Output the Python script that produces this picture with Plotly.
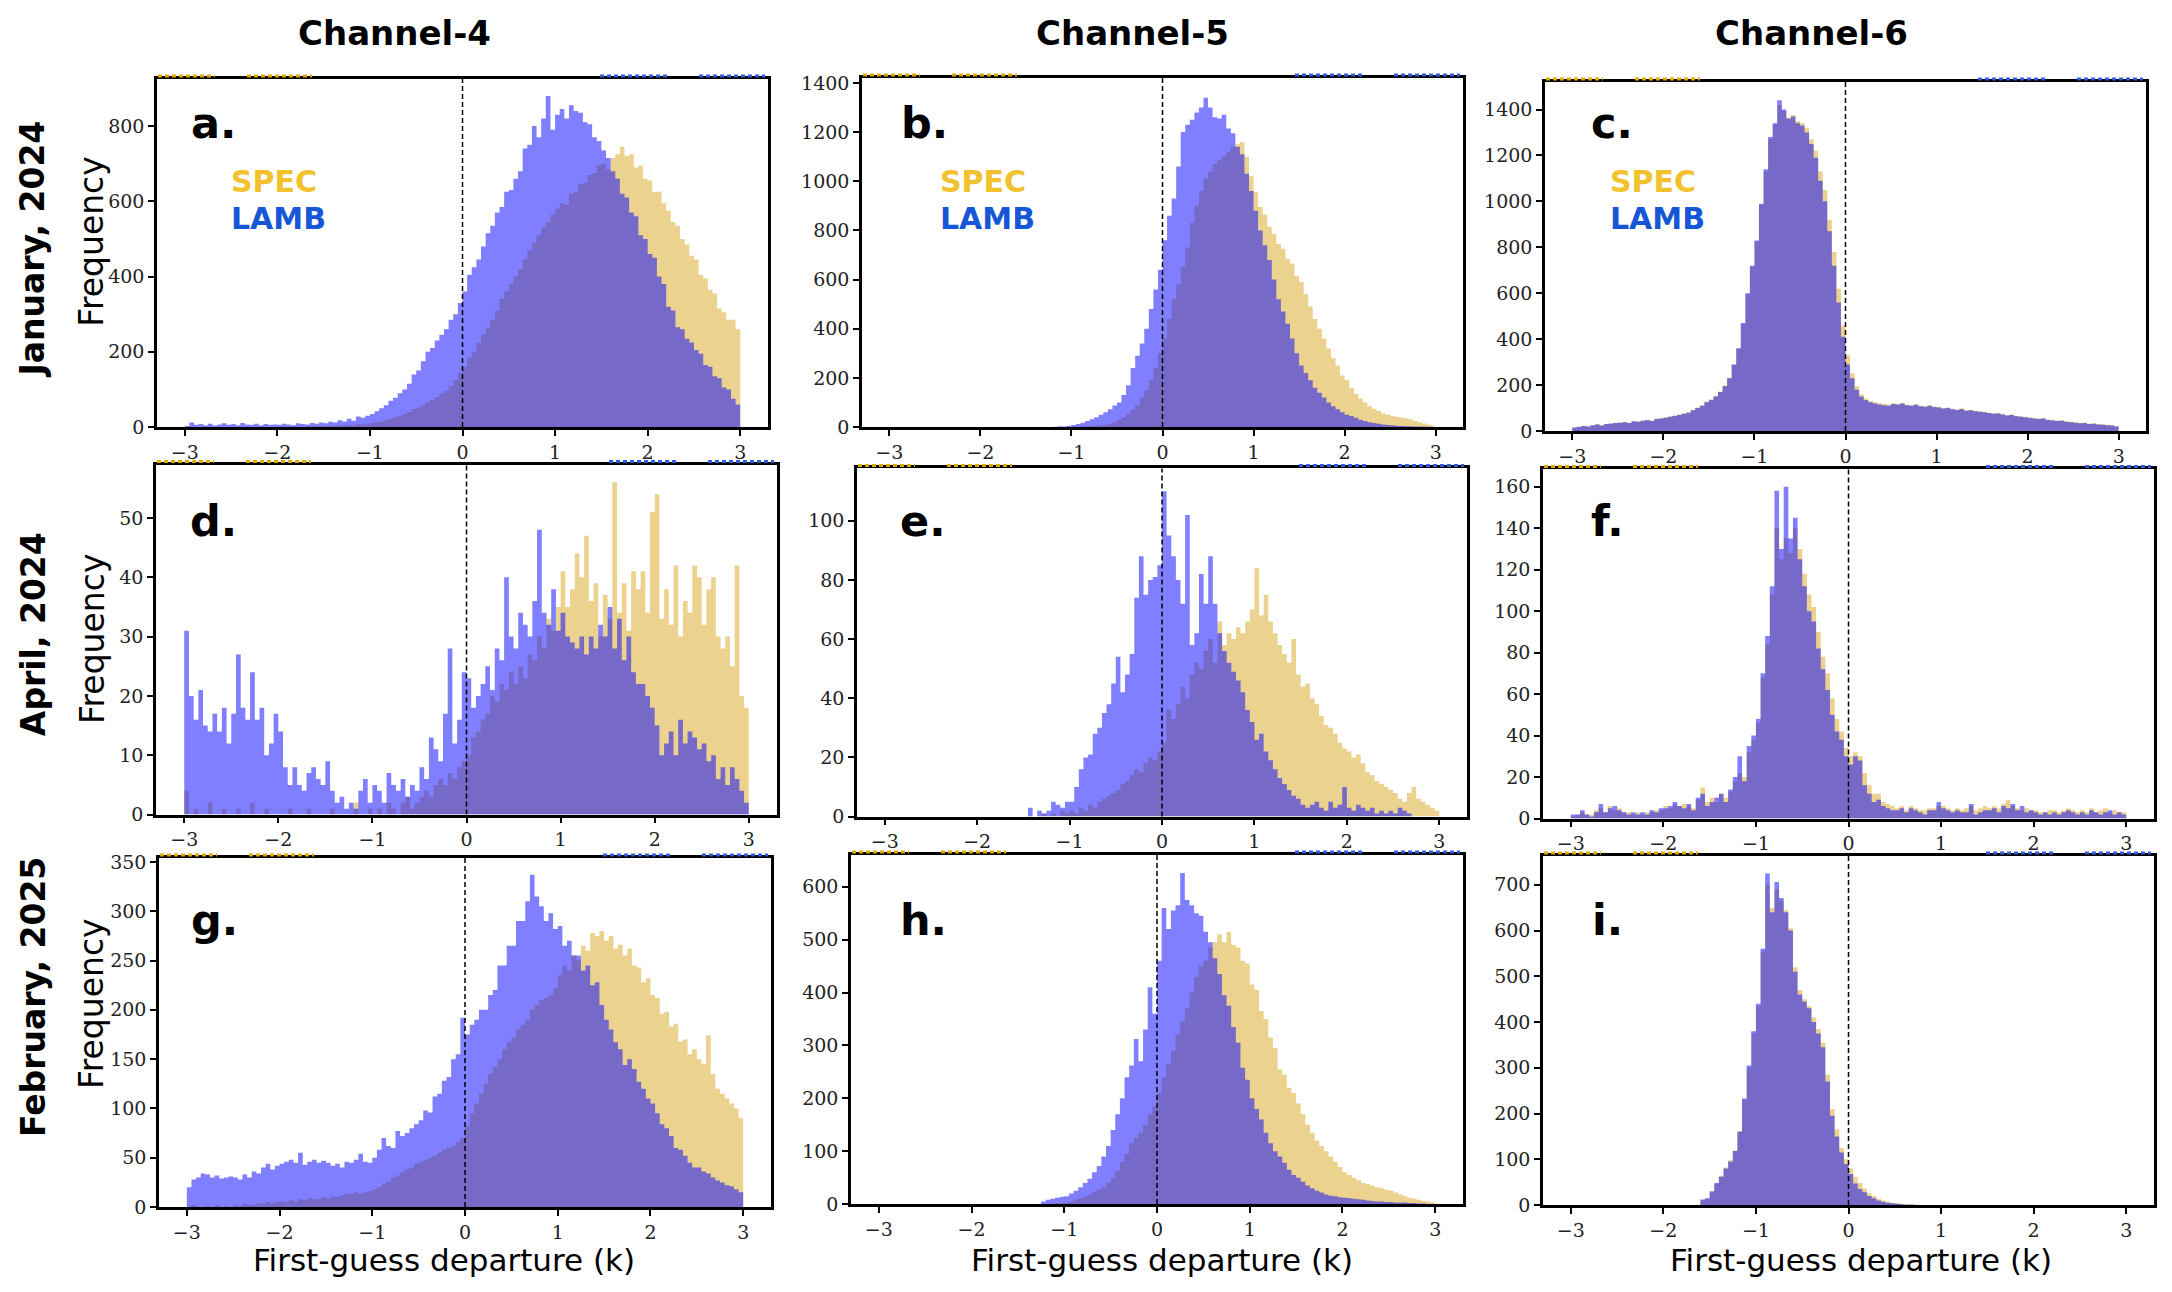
import plotly.graph_objects as go

W, H = 2172, 1292

# ---------------- data (bin heights, bins of 0.05 from -3 to 3) ----------------
bin_edges = [round(-3 + 0.05 * k, 2) for k in range(121)]
x_ticks = [-3, -2, -1, 0, 1, 2, 3]
x_tick_text = ["\u22123", "\u22122", "\u22121", "0", "1", "2", "3"]

columns = ["Channel-4", "Channel-5", "Channel-6"]
rows = ["January, 2024", "April, 2024", "February, 2025"]
panel_letters = ["a.", "b.", "c.", "d.", "e.", "f.", "g.", "h.", "i."]

spec_a = [0, 0, 0, 0, 0, 0, 0, 0, 0, 0,
          0, 0, 0, 0, 0, 0, 0, 0, 0, 0,
          0, 1, 0, 2, 1, 0, 2, 1, 3, 2,
          3, 2, 4, 5, 4, 6, 5, 8, 7, 9,
          10, 13, 15, 18, 22, 26, 30, 35, 40, 48,
          52, 58, 65, 72, 80, 90, 95, 110, 125, 145,
          160, 185, 200, 225, 245, 265, 285, 310, 340, 360,
          380, 400, 420, 445, 470, 490, 510, 530, 545, 565,
          580, 595, 590, 620, 625, 645, 650, 670, 675, 695,
          700, 685, 715, 725, 745, 720, 725, 690, 695, 660,
          655, 625, 625, 595, 575, 545, 535, 500, 485, 455,
          445, 405, 395, 365, 355, 315, 305, 285, 285, 260]
lamb_a = [3, 12, 6, 8, 5, 9, 4, 7, 10, 6,
          8, 5, 11, 7, 6, 9, 5, 8, 6, 7,
          6, 9, 7, 5, 10, 8, 7, 11, 9, 12,
          10, 14, 12, 18, 15, 22, 17, 28, 25, 30,
          35, 42, 50, 58, 70, 78, 90, 100, 115, 140,
          150, 175, 200, 210, 230, 245, 260, 285, 300, 330,
          360, 405, 425, 445, 480, 515, 535, 570, 585, 625,
          630, 660, 680, 740, 750, 800, 770, 820, 880, 790,
          830, 845, 820, 855, 840, 835, 810, 805, 770, 760,
          735, 715, 680, 660, 620, 610, 570, 560, 510, 500,
          460, 450, 400, 380, 320, 310, 265, 260, 235, 225,
          205, 195, 165, 160, 135, 130, 105, 100, 75, 60]

spec_b = [0, 0, 0, 0, 0, 0, 0, 0, 0, 0,
          0, 0, 0, 0, 0, 0, 0, 0, 0, 0,
          0, 0, 0, 0, 0, 0, 0, 0, 0, 0,
          0, 0, 0, 0, 0, 0, 0, 0, 0, 1,
          1, 2, 2, 3, 4, 5, 7, 9, 12, 18,
          30, 40, 55, 70, 90, 120, 150, 190, 240, 300,
          360, 440, 520, 580, 650, 730, 830, 900, 960, 1010,
          1040, 1070, 1085, 1100, 1120, 1140, 1150, 1160, 1100, 1020,
          955, 895, 865, 815, 785, 745, 725, 685, 665, 615,
          590, 540, 490, 440, 400, 360, 320, 280, 250, 210,
          190, 160, 135, 115, 100, 85, 75, 65, 55, 50,
          45, 42, 40, 36, 32, 25, 20, 15, 10, 5]
lamb_b = [0, 0, 0, 0, 0, 0, 0, 0, 0, 0,
          0, 0, 0, 0, 0, 0, 0, 0, 0, 0,
          0, 0, 0, 0, 0, 0, 0, 0, 0, 0,
          0, 0, 0, 0, 0, 0, 1, 3, 2, 5,
          8, 12, 18, 25, 32, 40, 50, 60, 72, 88,
          100, 130, 170, 240, 290, 340, 400, 480, 560, 640,
          760, 860, 930, 1060, 1200, 1230, 1250, 1280, 1300, 1340,
          1300, 1260, 1255, 1270, 1215, 1195, 1140, 1110, 1030, 960,
          880, 800, 740, 680, 600, 520, 470, 420, 360, 300,
          250, 220, 190, 160, 140, 120, 100, 85, 72, 60,
          50, 45, 38, 30, 25, 20, 17, 14, 10, 8,
          7, 5, 4, 3, 3, 2, 2, 1, 1, 0]

spec_c = [14, 17, 23, 21, 24, 29, 25, 31, 32, 36,
          37, 39, 36, 41, 42, 46, 47, 45, 53, 56,
          60, 63, 65, 72, 76, 82, 92, 102, 112, 128,
          138, 152, 172, 198, 232, 288, 358, 465, 595, 715,
          825, 985, 1130, 1270, 1335, 1420, 1395, 1365, 1375, 1350,
          1340, 1320, 1270, 1220, 1130, 1050, 920, 780, 620, 460,
          330, 250, 195, 160, 142, 130, 125, 120, 118, 115,
          120, 118, 122, 115, 112, 116, 110, 108, 112, 106,
          104, 100, 102, 97, 94, 98, 90, 92, 88, 86,
          84, 80, 77, 78, 74, 70, 72, 66, 64, 62,
          60, 57, 54, 56, 50, 48, 46, 47, 42, 40,
          38, 36, 37, 32, 34, 30, 29, 27, 26, 22]
lamb_c = [15, 18, 22, 20, 25, 28, 24, 30, 33, 35,
          36, 38, 35, 42, 40, 45, 48, 44, 52, 55,
          58, 62, 66, 70, 75, 80, 90, 100, 110, 125,
          135, 150, 170, 195, 230, 290, 360, 470, 600, 720,
          830, 990, 1140, 1280, 1340, 1440, 1400, 1360, 1370, 1340,
          1330, 1300, 1250, 1190, 1090, 1000, 870, 720, 560, 410,
          290, 230, 180, 150, 135, 125, 120, 115, 112, 110,
          118, 115, 120, 112, 110, 114, 108, 106, 110, 104,
          102, 98, 100, 95, 92, 96, 88, 90, 86, 84,
          82, 78, 75, 76, 72, 68, 70, 64, 62, 60,
          57, 55, 52, 54, 48, 46, 44, 45, 40, 38,
          36, 34, 35, 30, 32, 28, 27, 25, 24, 20]

spec_d = [4, 0, 1, 0, 0, 2, 0, 0, 1, 0,
          0, 1, 0, 0, 2, 0, 0, 1, 0, 0,
          0, 0, 1, 0, 0, 0, 1, 0, 0, 0,
          0, 1, 0, 0, 0, 0, 2, 0, 0, 1,
          0, 1, 0, 2, 1, 0, 2, 3, 1, 2,
          3, 4, 3, 5, 6, 5, 7, 6, 8, 9,
          10, 13, 14, 16, 17, 20, 19, 22, 21, 24,
          22, 25, 23, 27, 26, 30, 28, 33, 31, 35,
          41, 35, 38, 44, 40, 47, 36, 39, 30, 37,
          33, 56, 34, 39, 31, 41, 38, 41, 34, 51,
          54, 33, 38, 32, 42, 30, 36, 34, 42, 40,
          32, 38, 40, 30, 28, 30, 25, 42, 20, 18]
lamb_d = [31, 20, 16, 21, 15, 14, 17, 14, 18, 12,
          17, 27, 18, 16, 24, 16, 18, 10, 12, 17,
          14, 8, 5, 8, 5, 4, 7, 8, 6, 5,
          9, 4, 2, 3, 1, 2, 1, 4, 6, 2,
          5, 4, 2, 7, 5, 4, 6, 3, 5, 4,
          8, 6, 13, 11, 9, 17, 28, 12, 16, 24,
          23, 18, 20, 22, 25, 21, 28, 26, 40, 30,
          28, 34, 32, 30, 36, 48, 34, 32, 38, 31,
          34, 30, 29, 28, 30, 27, 30, 28, 32, 30,
          35, 28, 33, 26, 30, 24, 22, 22, 20, 18,
          15, 10, 12, 14, 10, 16, 12, 14, 13, 11,
          12, 9, 10, 6, 8, 5, 8, 6, 4, 2]

spec_e = [0, 0, 0, 0, 0, 0, 0, 0, 0, 0,
          0, 0, 0, 0, 0, 0, 0, 0, 0, 0,
          0, 0, 0, 0, 0, 0, 0, 0, 0, 0,
          0, 0, 0, 0, 1, 0, 1, 0, 2, 1,
          2, 1, 3, 2, 4, 3, 5, 6, 7, 8,
          9, 11, 12, 14, 16, 15, 18, 20, 19, 22,
          25, 36, 33, 38, 44, 40, 48, 52, 50, 56,
          60, 52, 66, 58, 62, 60, 64, 62, 66, 70,
          84, 68, 75, 66, 62, 58, 55, 52, 60, 48,
          44, 45, 40, 38, 34, 31, 30, 28, 25, 23,
          22, 20, 21, 18, 15, 14, 12, 11, 10, 9,
          8, 6, 5, 8, 10, 6, 5, 4, 3, 2]
lamb_e = [0, 0, 0, 0, 0, 0, 0, 0, 0, 0,
          0, 0, 0, 0, 0, 0, 0, 0, 0, 0,
          0, 0, 0, 0, 0, 0, 0, 0, 0, 0,
          0, 3, 0, 2, 1, 2, 5, 4, 3, 5,
          5, 10, 16, 20, 21, 28, 30, 35, 38, 45,
          54, 42, 48, 55, 74, 88, 75, 80, 81, 85,
          110, 95, 88, 80, 72, 102, 58, 62, 82, 72,
          88, 72, 62, 56, 52, 49, 46, 42, 36, 32,
          26, 28, 22, 19, 16, 13, 11, 9, 7, 6,
          4, 3, 4, 5, 3, 2, 5, 3, 4, 10,
          3, 2, 4, 3, 2, 3, 1, 2, 1, 2,
          1, 3, 2, 1, 0, 0, 0, 0, 0, 0]

spec_f = [1, 2, 3, 2, 2, 4, 5, 3, 6, 4,
          5, 3, 3, 2, 3, 2, 3, 3, 4, 4,
          6, 5, 7, 6, 7, 6, 5, 9, 15, 8,
          10, 8, 12, 10, 13, 18, 22, 20, 32, 38,
          46, 68, 84, 108, 140, 125, 135, 128, 140, 130,
          118, 108, 102, 90, 78, 70, 58, 48, 42, 34,
          30, 32, 30, 22, 16, 12, 12, 8, 7, 6,
          5, 6, 4, 6, 5, 4, 4, 5, 5, 6,
          6, 5, 4, 5, 4, 5, 6, 4, 5, 6,
          5, 6, 5, 7, 9, 6, 5, 4, 5, 4,
          4, 3, 3, 4, 4, 3, 4, 5, 4, 3,
          4, 3, 5, 3, 4, 5, 3, 4, 3, 3]
lamb_f = [2, 2, 4, 2, 1, 3, 7, 3, 5, 6,
          4, 3, 2, 3, 2, 3, 2, 4, 3, 5,
          5, 6, 8, 6, 5, 7, 4, 10, 12, 6,
          8, 10, 12, 8, 14, 20, 30, 18, 35, 40,
          48, 70, 88, 112, 158, 130, 160, 135, 145, 125,
          112, 100, 95, 82, 72, 62, 50, 42, 38, 30,
          26, 30, 28, 16, 12, 8, 9, 6, 5, 4,
          4, 5, 3, 5, 4, 3, 2, 4, 4, 8,
          5, 4, 3, 4, 3, 3, 7, 2, 3, 4,
          4, 5, 3, 6, 5, 7, 4, 6, 3, 4,
          3, 2, 3, 2, 3, 2, 3, 4, 3, 2,
          3, 2, 4, 3, 2, 3, 4, 2, 3, 2]

spec_g = [0, 2, 0, 0, 1, 0, 2, 0, 1, 0,
          2, 1, 3, 2, 2, 4, 3, 5, 4, 5,
          6, 5, 7, 6, 8, 7, 9, 8, 8, 10,
          9, 11, 10, 12, 14, 13, 15, 14, 15, 16,
          18, 20, 24, 26, 30, 32, 35, 38, 40, 44,
          46, 48, 50, 52, 55, 58, 60, 62, 66, 70,
          82, 95, 105, 115, 125, 135, 142, 150, 160, 167,
          172, 180, 185, 190, 200, 205, 210, 212, 215, 222,
          235, 245, 240, 255, 250, 265, 260, 278, 275, 280,
          270, 275, 262, 266, 255, 262, 245, 243, 228, 232,
          215, 212, 196, 198, 183, 186, 168, 170, 155, 160,
          150, 145, 174, 135, 120, 115, 110, 105, 100, 90]
lamb_g = [20, 28, 30, 34, 33, 30, 32, 29, 30, 31,
          30, 28, 33, 30, 36, 34, 40, 44, 38, 42,
          44, 46, 48, 45, 55, 43, 46, 48, 45, 47,
          45, 42, 44, 40, 46, 45, 48, 54, 46, 45,
          50, 58, 70, 62, 60, 77, 72, 75, 80, 84,
          88, 98, 96, 112, 115, 128, 132, 150, 155, 192,
          175, 185, 190, 200, 200, 215, 220, 245, 245, 265,
          265, 290, 290, 310, 337, 315, 305, 290, 298, 282,
          285, 265, 270, 255, 255, 240, 245, 225, 228, 205,
          190, 180, 167, 160, 144, 150, 140, 127, 120, 110,
          105, 95, 84, 80, 72, 60, 58, 52, 45, 40,
          40, 36, 34, 30, 27, 25, 22, 21, 18, 15]

spec_h = [0, 0, 0, 0, 0, 0, 0, 0, 0, 0,
          0, 0, 0, 0, 0, 0, 0, 0, 0, 0,
          0, 0, 0, 0, 0, 0, 0, 0, 0, 0,
          0, 0, 0, 0, 0, 0, 0, 1, 2, 2,
          3, 5, 8, 10, 14, 18, 24, 28, 32, 40,
          50, 62, 80, 95, 115, 125, 135, 150, 170, 185,
          210, 240, 265, 290, 320, 345, 370, 400, 430, 450,
          460, 485, 495, 510, 495, 515, 490, 485, 460, 455,
          415, 405, 365, 350, 315, 295, 255, 245, 220, 210,
          190, 170, 150, 135, 120, 110, 100, 90, 80, 70,
          60, 55, 50, 45, 40, 38, 35, 32, 30, 27,
          25, 22, 18, 15, 12, 10, 8, 6, 5, 3]
lamb_h = [0, 0, 0, 0, 0, 0, 0, 0, 0, 0,
          0, 0, 0, 0, 0, 0, 0, 0, 0, 0,
          0, 0, 0, 0, 0, 0, 0, 0, 0, 0,
          0, 0, 0, 0, 0, 5, 8, 10, 12, 14,
          15, 20, 25, 32, 40, 48, 60, 72, 90, 110,
          140, 170, 200, 240, 262, 312, 270, 330, 410, 360,
          460, 560, 520, 555, 565, 626, 575, 565, 550, 545,
          515, 495, 465, 435, 395, 375, 335, 305, 258, 235,
          200, 180, 160, 135, 115, 100, 90, 78, 65, 55,
          50, 42, 35, 30, 25, 22, 18, 16, 15, 13,
          12, 11, 10, 9, 8, 7, 6, 5, 5, 4,
          4, 3, 3, 3, 2, 2, 1, 1, 0, 0]

spec_i = [0, 0, 0, 0, 0, 0, 0, 0, 0, 0,
          0, 0, 0, 0, 0, 0, 0, 0, 0, 0,
          0, 0, 0, 0, 0, 0, 0, 0, 10, 14,
          28, 46, 64, 82, 98, 120, 162, 230, 300, 375,
          435, 555, 700, 650, 690, 665, 645, 605, 520, 470,
          450, 435, 410, 385, 355, 285, 210, 165, 125, 100,
          80, 62, 48, 36, 26, 20, 14, 10, 7, 5,
          4, 3, 2, 1, 1, 0, 0, 0, 0, 0,
          0, 0, 0, 0, 0, 0, 0, 0, 0, 0,
          0, 0, 0, 0, 0, 0, 0, 0, 0, 0,
          0, 0, 0, 0, 0, 0, 0, 0, 0, 0,
          0, 0, 0, 0, 0, 0, 0, 0, 0, 0]
lamb_i = [0, 0, 0, 0, 0, 0, 0, 0, 0, 0,
          0, 0, 0, 0, 0, 0, 0, 0, 0, 0,
          0, 0, 0, 0, 0, 0, 0, 0, 12, 15,
          30, 48, 62, 80, 95, 118, 160, 233, 305, 380,
          440, 560, 725, 640, 706, 671, 640, 600, 510, 460,
          445, 430, 400, 375, 345, 270, 195, 150, 115, 90,
          68, 47, 35, 28, 20, 15, 10, 7, 5, 4,
          3, 2, 1, 1, 0, 0, 0, 0, 0, 0,
          0, 0, 0, 0, 0, 0, 0, 0, 0, 0,
          0, 0, 0, 0, 0, 0, 0, 0, 0, 0,
          0, 0, 0, 0, 0, 0, 0, 0, 0, 0,
          0, 0, 0, 0, 0, 0, 0, 0, 0, 0]

y_max = [925, 1420, 1520, 59, 117.7, 168.3, 354, 660, 763]
y_dtick = [200, 200, 200, 10, 20, 20, 50, 100, 100]

# ---------------- layout (pixel boxes of each panel: left, right, top, bottom) ----------------
boxes = [(157, 768, 73, 426), (862, 1463, 72, 426), (1545, 2146, 76, 430),
         (156, 777, 464, 819), (857, 1467, 468, 821), (1543, 2154, 469, 823),
         (159, 771, 863, 1217), (851, 1463, 860, 1214), (1543, 2154, 861, 1215)]
letter_pos = [(189, 133), (899, 133), (1589, 133),
              (188, 536), (898, 536), (1589, 536),
              (189, 941), (898, 941), (1590, 941)]

series = [(spec_a, lamb_a), (spec_b, lamb_b), (spec_c, lamb_c),
          (spec_d, lamb_d), (spec_e, lamb_e), (spec_f, lamb_f),
          (spec_g, lamb_g), (spec_h, lamb_h), (spec_i, lamb_i)]

SPEC_FILL = "rgba(218,165,32,0.5)"
LAMB_FILL = "rgba(0,0,255,0.5)"
SPEC_TXT = "#F2C12E"
LAMB_TXT = "#1557D6"

fig = go.Figure()
shapes = []
annotations = []
layout = {}

tick_font = dict(family="DejaVu Serif", size=19, color="#222222")

for i, ((spec, lamb), (l, r, t, b)) in enumerate(zip(series, boxes)):
    ax = "" if i == 0 else str(i + 1)
    for vals, col in ((spec, SPEC_FILL), (lamb, LAMB_FILL)):
        fig.add_trace(go.Scatter(
            x=bin_edges, y=list(vals) + [vals[-1]],
            xaxis="x" + ax, yaxis="y" + ax,
            mode="lines", line=dict(width=0, shape="hv"),
            fill="tozeroy", fillcolor=col,
            hoverinfo="skip", showlegend=False))
    common = dict(showline=True, linewidth=2.5, linecolor="black", mirror=True,
                  ticks="outside", ticklen=6, tickwidth=1.5, tickcolor="black",
                  showgrid=False, zeroline=False, tickfont=tick_font)
    layout["xaxis" + ax] = dict(domain=[l / W, r / W], range=[-3.3, 3.3],
                                anchor="y" + ax, tickvals=x_ticks, ticktext=x_tick_text,
                                **common)
    layout["yaxis" + ax] = dict(domain=[1 - b / H, 1 - t / H], range=[0, y_max[i]],
                                anchor="x" + ax, tick0=0, dtick=y_dtick[i], **common)
    # dashed zero line
    shapes.append(dict(type="line", xref="x" + ax, yref="y" + ax + " domain",
                       x0=0, x1=0, y0=0, y1=1,
                       line=dict(color="black", width=1.5, dash="5px,3px")))
    # clipped stats text remnants above the frame
    ytop = 1 - (t - 3) / H
    for (a0, a1), colr in (((l + 1, l + 58), "#E0A800"), ((l + 90, l + 155), "#E0A800"),
                           ((r - 168, r - 100), "#2F5BE0"), ((r - 69, r - 3), "#2F5BE0")):
        shapes.append(dict(type="line", xref="paper", yref="paper",
                           x0=a0 / W, x1=a1 / W, y0=ytop, y1=ytop,
                           line=dict(color=colr, width=3, dash="4px,3px")))
    # panel letter
    lx, lb = letter_pos[i]
    annotations.append(dict(text=panel_letters[i], xref="paper", yref="paper",
                            x=lx / W, y=1 - (lb - 0.346 * 43) / H,
                            xanchor="left", yanchor="middle", showarrow=False,
                            font=dict(family="DejaVu Sans", size=43, color="black", weight="bold")))

# SPEC / LAMB labels on the first row
for sx in (229, 938, 1608):
    annotations.append(dict(text="SPEC", xref="paper", yref="paper",
                            x=sx / W, y=1 - (187 - 0.346 * 30) / H,
                            xanchor="left", yanchor="middle", showarrow=False,
                            font=dict(family="DejaVu Sans", size=30, color=SPEC_TXT, weight="bold")))
    annotations.append(dict(text="LAMB", xref="paper", yref="paper",
                            x=sx / W, y=1 - (225 - 0.346 * 30) / H,
                            xanchor="left", yanchor="middle", showarrow=False,
                            font=dict(family="DejaVu Sans", size=30, color=LAMB_TXT, weight="bold")))

# column titles
for name, cx in zip(columns, (394, 1132, 1811)):
    annotations.append(dict(text=name, xref="paper", yref="paper", x=cx / W, y=1 - 26 / H,
                            xanchor="center", yanchor="middle", showarrow=False,
                            font=dict(family="DejaVu Sans", size=34, color="black", weight="bold")))

# row titles and y labels
for name, cy, fy in zip(rows, (246, 636, 1004), (238, 641, 1011)):
    annotations.append(dict(text=name, xref="paper", yref="paper", x=33 / W, y=1 - cy / H,
                            xanchor="center", yanchor="middle", textangle=-90, showarrow=False,
                            font=dict(family="DejaVu Sans", size=33, color="black", weight="bold")))
    annotations.append(dict(text="Frequency", xref="paper", yref="paper", x=92 / W, y=1 - fy / H,
                            xanchor="center", yanchor="middle", textangle=-90, showarrow=False,
                            font=dict(family="DejaVu Sans", size=33, color="black")))

# x labels
for cx in (444, 1162, 1861):
    annotations.append(dict(text="First-guess departure (k)", xref="paper", yref="paper",
                            x=cx / W, y=1 - 1271 / H, xanchor="center", yanchor="middle",
                            showarrow=False,
                            font=dict(family="DejaVu Sans", size=31, color="black")))

fig.update_layout(width=W, height=H, margin=dict(l=0, r=0, t=0, b=0),
                  paper_bgcolor="white", plot_bgcolor="white",
                  shapes=shapes, annotations=annotations, showlegend=False, **layout)

fig.write_html("out.html")
